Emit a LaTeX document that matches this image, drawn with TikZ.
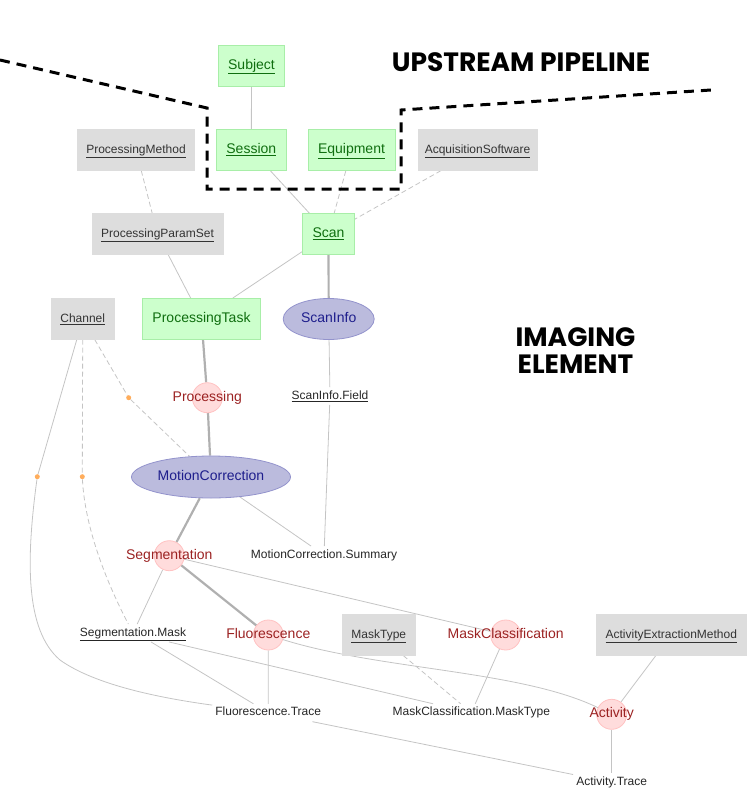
\documentclass[tikz,border=0pt]{standalone}
\usepackage{fontspec}
\setmainfont{Liberation Sans}
\newfontfamily\titlefont{Poppins}
\usetikzlibrary{shapes.geometric,backgrounds}
\definecolor{gfill}{HTML}{CCFFCC}
\definecolor{gborder}{HTML}{A8EEA8}
\definecolor{gtext}{HTML}{0F6E0F}
\definecolor{lfill}{HTML}{DDDDDD}
\definecolor{ltext}{HTML}{333333}
\definecolor{efill}{HTML}{BBBBDD}
\definecolor{eborder}{HTML}{9393CC}
\definecolor{etext}{HTML}{1E1E8C}
\definecolor{cfill}{HTML}{FFDCDC}
\definecolor{cborder}{HTML}{FFC2C2}
\definecolor{ctext}{HTML}{9B2222}
\definecolor{edgec}{HTML}{C4C4C4}
\definecolor{dotc}{HTML}{FFAD5C}
\begin{document}
\begin{tikzpicture}[x=1pt,y=-1pt,
  big/.style={font=\fontsize{14}{16}\selectfont, text height=10pt, text depth=3pt},
  small/.style={font=\fontsize{12}{14}\selectfont, text height=9pt, text depth=2.5pt},
  manual/.style={big, draw=gborder, fill=gfill, line width=0.8pt, minimum height=41pt, inner xsep=10pt, text=gtext},
  lookup/.style={small, draw=lfill, fill=lfill, minimum height=41pt, inner xsep=9pt, text=ltext},
  imported/.style={big, ellipse, draw=eborder, fill=efill, line width=0.8pt, inner sep=0pt, minimum height=41pt, text=etext},
  comp/.style={circle, draw=cborder, fill=cfill, line width=0.8pt, minimum size=30pt, inner sep=0pt},
  complabel/.style={big, text=ctext},
  part/.style={small, text=black!85, inner sep=3pt},
  fkdot/.style={circle, fill=dotc, minimum size=5pt, inner sep=0pt},
  thinedge/.style={draw=edgec, line width=0.8pt},
  thickedge/.style={draw=edgec!90!black, line width=2.2pt},
  dashedge/.style={thinedge, dash pattern=on 5pt off 3pt},
  boundary/.style={line width=3pt, dash pattern=on 10pt off 7pt},
  title/.style={font=\titlefont\bfseries\fontsize{26.5}{27}\selectfont, align=center}
]
\useasboundingbox (0,0) rectangle (751,801);

% titles
\node[title] (tup) at (521,62) {UPSTREAM PIPELINE};
\node[title] (tim) at (575.5,351) {IMAGING\\ELEMENT};

% boundary
\coordinate (b0) at (0,60);
\coordinate (b1) at (207,108);
\coordinate (b2) at (207,189);
\coordinate (b3) at (401,189);
\coordinate (b4) at (401,110);
\coordinate (b5) at (711,90);
\draw[boundary] (b0) -- (b1) -- (b2) -- (b3) -- (b4) -- (b5);

% nodes
\node[manual] (subj) at (251.5,65.5) {\underline{Subject}};
\node[manual] (sess) at (251.3,150) {\underline{Session}};
\node[manual] (equip) at (351.5,150) {\underline{Equipment}};
\node[lookup] (pmeth) at (136,150) {\underline{ProcessingMethod}};
\node[lookup, inner xsep=6.6pt] (acq) at (477.5,150) {\underline{AcquisitionSoftware}};
\node[lookup] (pps) at (157.5,234) {\underline{ProcessingParamSet}};
\node[manual] (scan) at (328.5,234) {\underline{Scan}};
\node[lookup] (chan) at (82.7,319) {\underline{Channel}};
\node[manual] (ptask) at (201.5,319) {ProcessingTask};
\node[imported, minimum width=91pt] (sinfo) at (328.7,319) {ScanInfo};
\node[part] (sfield) at (330,396) {\underline{ScanInfo.Field}};
\node[comp] (proc) at (207.3,397.7) {};
\node[complabel] (procl) at (proc) {Processing};
\node[imported, minimum width=159pt, minimum height=42pt] (mc) at (211,477) {MotionCorrection};
\node[comp] (seg) at (169.3,555.7) {};
\node[complabel] (segl) at (seg) {Segmentation};
\node[part] (mcsum) at (324,555) {MotionCorrection.Summary};
\node[part] (smask) at (133,633) {\underline{Segmentation.Mask}};
\node[comp] (fluo) at (268.3,635) {};
\node[complabel] (fluol) at (fluo) {Fluorescence};
\node[lookup] (mtype) at (378.8,635) {\underline{MaskType}};
\node[comp] (mcls) at (505.7,635) {};
\node[complabel] (mclsl) at (mcls) {MaskClassification};
\node[lookup] (aem) at (671.3,635) {\underline{ActivityExtractionMethod}};
\node[part] (ftrace) at (268.2,712.7) {Fluorescence.Trace};
\node[part] (mcmt) at (471.3,712.7) {MaskClassification.MaskType};
\node[comp] (act) at (611.7,714.3) {};
\node[complabel] (actl) at (act) {Activity};
\node[part] (atrace) at (611.7,782.3) {Activity.Trace};

\node[fkdot] (d1) at (37.3,476.7) {};
\node[fkdot] (d2) at (82.3,476.7) {};
\node[fkdot] (d3) at (128.7,397.7) {};
\coordinate (c1) at (60,660);

\begin{pgfonlayer}{background}
\draw[thinedge] (subj) -- (sess);
\draw[thinedge] (sess) -- (scan);
\draw[dashedge] (equip) -- (scan);
\draw[dashedge] (acq) -- (scan);
\draw[dashedge] (pmeth) -- (pps);
\draw[thinedge] (pps) -- (ptask);
\draw[thinedge] (scan) -- (ptask);
\draw[thickedge] (scan) -- (sinfo);
\draw[thinedge] (sinfo) -- (sfield);
\draw[thickedge] (ptask) -- (proc);
\draw[thickedge] (proc) -- (mc);
\draw[dashedge] (chan) -- (d3) -- (mc);
\draw[dashedge] (chan.south) -- (d2) .. controls (85,530) and (108,585) .. (smask);
\draw[thinedge] (chan) -- (d1) .. controls (26,560) and (25,630) .. (c1) .. controls (95,685) and (160,698) .. (ftrace);
\draw[thickedge] (mc) -- (seg);
\draw[thinedge] (mc) -- (mcsum);
\draw[thinedge] (sfield) -- (mcsum);
\draw[thinedge] (seg) -- (smask);
\draw[thickedge] (seg) -- (fluo);
\draw[thinedge] (seg) -- (mcls);
\draw[thinedge] ([xshift=18pt]smask.south) -- (ftrace);
\draw[thinedge] ([xshift=36pt]smask.south) -- (mcmt);
\draw[thinedge] (fluo) -- (ftrace);
\draw[thinedge] (fluo) .. controls (380,670) and (520,670) .. (act);
\draw[dashedge] (mtype) -- (mcmt);
\draw[thinedge] (mcls) -- (mcmt);
\draw[thinedge] (aem) -- (act);
\draw[thinedge] (act) -- (atrace);
\draw[thinedge] (ftrace) -- (atrace);
\end{pgfonlayer}
\end{tikzpicture}
\end{document}
